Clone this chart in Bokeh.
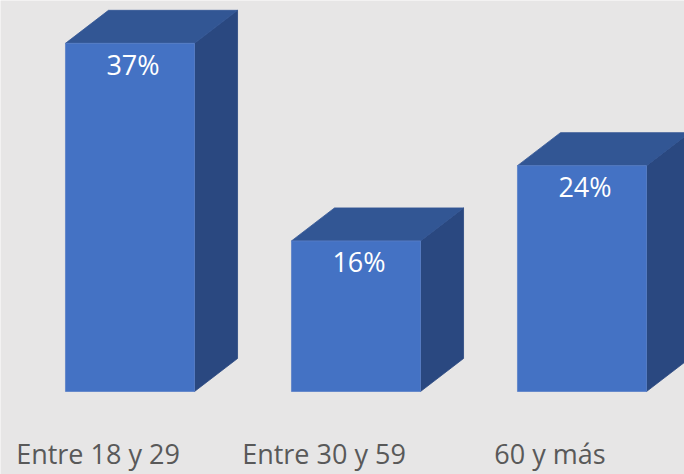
from bokeh.plotting import figure
from bokeh.models import ColumnDataSource, Range1d
from bokeh.core.properties import value
from bokeh.embed import file_html
from bokeh.resources import INLINE

categories = ["Entre 18 y 29", "Entre 30 y 59", "60 y más"]
values = [37, 16, 24]
labels = ["37%", "16%", "24%"]

BG = "#E7E6E6"
FRONT = "#4472C4"
TOP = "#325694"
SIDE = "#2A4880"

bar_w = 0.571      # front width in category units
dx = 0.1903        # depth offset (x units)
dy = 3.507         # depth offset (y units)

xs = list(range(len(categories)))
left = [x - bar_w / 2 for x in xs]
right = [x + bar_w / 2 for x in xs]

p = figure(width=684, height=474, output_backend="svg", toolbar_location=None,
           x_range=Range1d(-0.573, 2.4535), y_range=Range1d(-8.82, 41.55),
           min_border=0)
p.axis.visible = False
p.grid.visible = False
p.background_fill_color = BG
p.border_fill_color = BG
p.outline_line_color = None

# side faces
side_x = [[r, r + dx, r + dx, r] for r in right]
side_y = [[0, dy, v + dy, v] for v in values]
p.patches(side_x, side_y, fill_color=SIDE, line_color=SIDE, line_width=0.8)

# top faces
top_x = [[l, r, r + dx, l + dx] for l, r in zip(left, right)]
top_y = [[v, v, v + dy, v + dy] for v in values]
p.patches(top_x, top_y, fill_color=TOP, line_color=TOP, line_width=0.8)

# front faces
src = ColumnDataSource(dict(x=xs, left=left, right=right, top=values,
                            bottom=[0] * len(values), label=labels, cat=categories))
p.quad(left="left", right="right", bottom="bottom", top="top", source=src,
       fill_color=FRONT, line_color="#5b80c8", line_width=0.8)

# value labels
p.text(x="x", y="top", text="label", source=src, text_color="white",
       text_font=value("Open Sans"), text_font_size="27px",
       text_align="center", text_baseline="middle", y_offset=21, x_offset=3)

# category labels
p.text(x="x", y="bottom", text="cat", source=src, text_color="#595959",
       text_font=value("Open Sans"), text_font_size="27px",
       text_align="center", text_baseline="alphabetic", x_offset=-32, y_offset=62)

open("out.html", "w").write(file_html(p, INLINE))
